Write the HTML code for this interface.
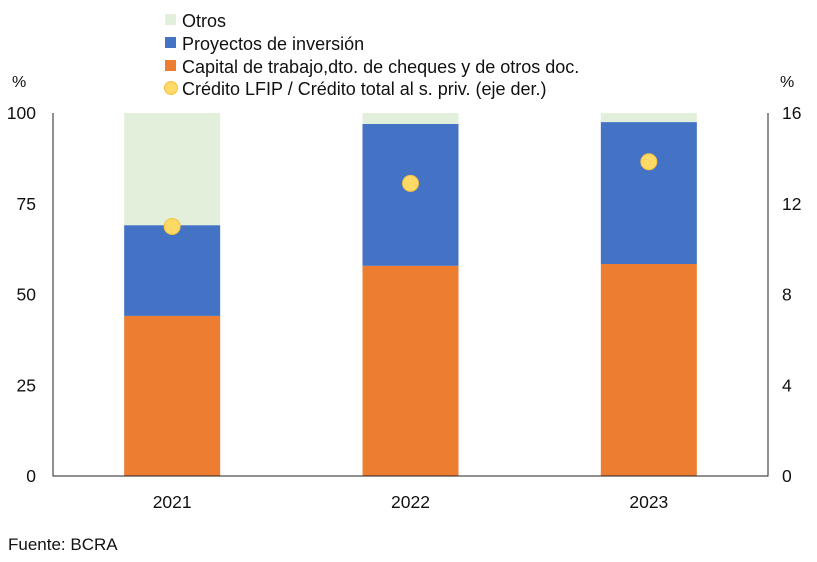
<!DOCTYPE html>
<html><head><meta charset="utf-8"><style>
body{margin:0;background:#fff;}
svg{display:block;font-family:"Liberation Sans",sans-serif;}
</style></head><body>
<svg id="chart" width="817" height="562" xmlns="http://www.w3.org/2000/svg">
<g id="legend">
<g><rect x="165" y="14" width="11" height="11" fill="#E2EFDA"/><text x="182" y="27" font-size="18" fill="#111">Otros</text></g>
<g><rect x="165" y="37" width="11" height="11" fill="#4472C4"/><text x="182" y="50" font-size="18" fill="#111">Proyectos de inversión</text></g>
<g><rect x="165" y="60" width="11" height="11" fill="#ED7D31"/><text x="182" y="73" font-size="18" fill="#111">Capital de trabajo,dto. de cheques y de otros doc.</text></g>
<g><circle cx="171" cy="88" r="6.5" fill="#FFD966" stroke="#F5C242" stroke-width="1"/><text x="182" y="95" font-size="18" fill="#111">Crédito LFIP / Crédito total al s. priv. (eje der.)</text></g>
</g>
<text x="12" y="87" font-size="16" fill="#111">%</text>
<text x="780" y="87" font-size="16" fill="#111">%</text>
<text x="8" y="550" font-size="17" fill="#111">Fuente: BCRA</text>
</svg>
<script>
const categories=["2021","2022","2023"];
const capital=[44.1,57.9,58.4];
const proyectos=[25.0,39.1,39.1];
const otros=[30.9,3.0,2.5];
const ratio=[11.0,12.9,13.85];
const leftTicks=[0,25,50,75,100];
const rightTicks=[0,4,8,12,16];
const svg=document.getElementById('chart');
const NS="http://www.w3.org/2000/svg";
const X0=53,X1=768,Y0=476,Y1=113;
const yL=v=>Y0-(v/100)*(Y0-Y1);
const yR=v=>Y0-(v/16)*(Y0-Y1);
const band=(X1-X0)/categories.length;
const xc=i=>X0+band*(i+0.5);
const BW=96;
function mk(tag,attrs){const e=document.createElementNS(NS,tag);for(const k in attrs)e.setAttribute(k,attrs[k]);svg.appendChild(e);return e;}
leftTicks.forEach(t=>{const e=mk('text',{x:36,y:yL(t)+6,'font-size':17.5,'text-anchor':'end',fill:'#111'});e.textContent=t;

});
rightTicks.forEach(t=>{const e=mk('text',{x:782,y:yR(t)+6,'font-size':17.5,fill:'#111'});e.textContent=t;

});
categories.forEach((c,i)=>{
 const x=xc(i)-BW/2;
 const series=[[capital[i],'#ED7D31','bar-capital'],[proyectos[i],'#4472C4','bar-proyectos'],[otros[i],'#E2EFDA','bar-otros']];
 let base=0;
 series.forEach(s=>{const r=mk('rect',{x:x,y:yL(base+s[0]),width:BW,height:yL(base)-yL(base+s[0]),fill:s[1]});
 
 
 base+=s[0];});
 const l=mk('text',{x:xc(i),y:508,'font-size':17.5,'text-anchor':'middle',fill:'#111'});l.textContent=c;
 
 
});
categories.forEach((c,i)=>{const d=mk('circle',{cx:xc(i),cy:yR(ratio[i]),r:8,fill:'#FFD966',stroke:'#F5C242','stroke-width':1});

});
const ax=mk('polyline',{points:`${X0},${Y1} ${X0},${Y0} ${X1},${Y0} ${X1},${Y1}`,fill:'none',stroke:'#222','stroke-width':1});


</script>
</body></html>
